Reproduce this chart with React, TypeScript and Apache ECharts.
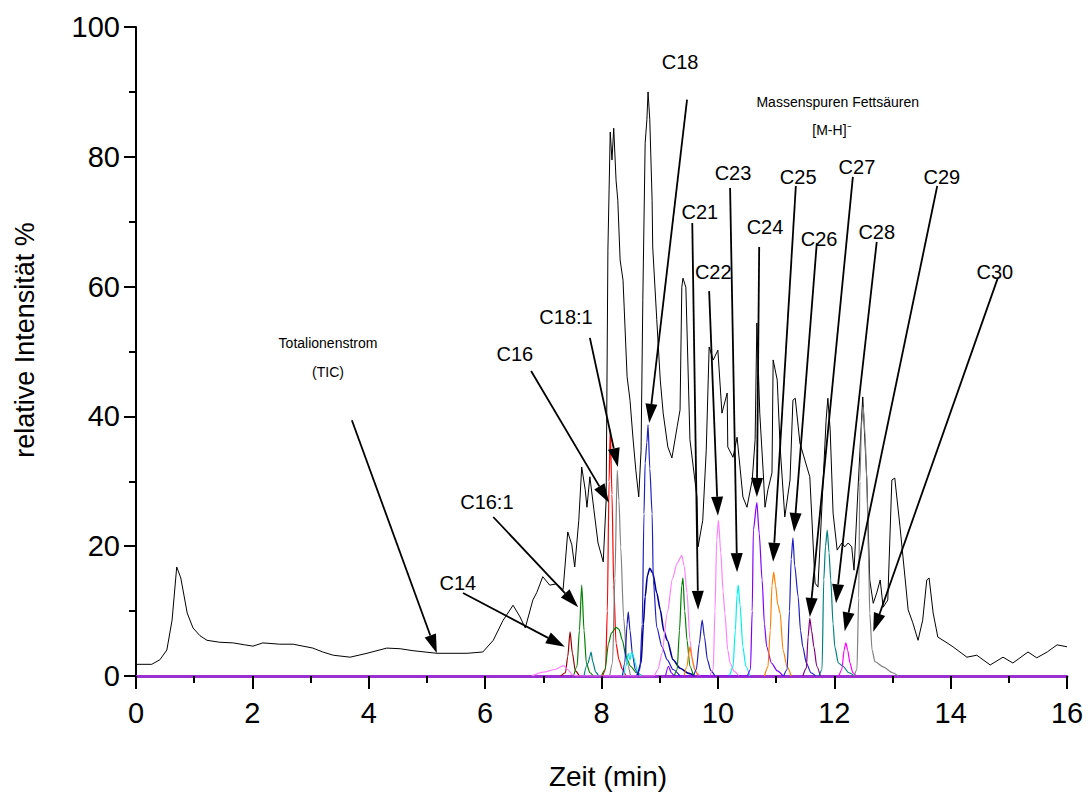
import React, { useEffect, useRef } from "react";
import * as echarts from "echarts";

type Pt = [number, number];

// Total ion current (TIC), time in min, relative intensity in %
const tic: Pt[] = [
  [0.0, 1.8], [0.27, 1.8], [0.41, 2.5], [0.53, 4.0], [0.62, 8.6], [0.7, 16.8], [0.77, 15.1],
  [0.88, 9.7], [0.98, 7.4], [1.1, 6.2], [1.22, 5.5], [1.44, 5.2], [1.67, 5.1], [1.87, 4.8],
  [2.01, 4.6], [2.18, 5.1], [2.47, 4.9], [2.7, 4.9], [2.87, 4.6], [3.04, 4.3], [3.21, 3.7],
  [3.39, 3.2], [3.68, 2.9], [3.97, 3.5], [4.31, 4.3], [4.54, 4.2], [4.76, 3.9], [5.17, 3.5],
  [5.69, 3.5], [5.96, 3.7], [6.14, 5.5], [6.31, 8.6], [6.48, 10.9], [6.6, 9.1], [6.69, 7.4],
  [6.82, 11.7], [6.89, 12.9], [6.99, 15.3], [7.11, 14.0], [7.23, 14.2], [7.34, 13.3],
  [7.42, 22.2], [7.49, 20.2], [7.54, 16.8], [7.61, 24.0], [7.66, 32.2], [7.72, 28.7],
  [7.75, 26.0], [7.8, 30.7], [7.87, 25.6], [7.94, 20.5], [8.03, 17.6], [8.08, 27.1],
  [8.11, 65.6], [8.15, 83.8], [8.18, 79.5], [8.21, 84.4], [8.25, 76.4], [8.28, 73.3],
  [8.32, 64.1], [8.37, 61.0], [8.44, 46.1], [8.49, 42.5], [8.54, 36.8], [8.59, 31.7],
  [8.64, 27.6], [8.68, 34.8], [8.71, 57.9], [8.75, 82.1], [8.78, 85.7], [8.8, 90.0],
  [8.83, 85.7], [8.87, 73.3], [8.88, 66.1], [8.95, 54.9], [9.01, 45.6], [9.06, 40.5],
  [9.14, 35.3], [9.21, 33.6], [9.3, 38.4], [9.35, 41.0], [9.38, 59.9], [9.4, 61.3],
  [9.45, 59.9], [9.52, 36.4], [9.64, 27.6], [9.66, 19.9], [9.74, 24.0], [9.8, 34.8],
  [9.85, 50.7], [9.92, 48.7], [10.0, 50.2], [10.07, 40.5], [10.16, 43.6], [10.17, 35.3],
  [10.26, 33.7], [10.33, 36.8], [10.43, 27.6], [10.5, 26.0], [10.59, 30.2], [10.64, 36.4],
  [10.67, 54.4], [10.72, 40.5], [10.78, 31.3], [10.81, 26.0], [10.86, 28.7], [10.93, 31.3],
  [10.95, 48.7], [11.02, 45.6], [11.07, 35.3], [11.15, 24.5], [11.24, 30.2], [11.29, 42.5],
  [11.33, 42.8], [11.41, 35.9], [11.53, 32.2], [11.58, 30.7], [11.67, 14.3], [11.72, 13.7],
  [11.81, 30.2], [11.86, 39.4], [11.89, 42.8], [11.93, 37.9], [11.98, 25.1], [12.05, 19.4],
  [12.13, 20.5], [12.18, 19.9], [12.24, 20.5], [12.3, 19.9], [12.34, 16.3], [12.41, 29.1],
  [12.48, 41.4], [12.49, 43.0], [12.56, 30.2], [12.61, 14.8], [12.67, 11.2], [12.73, 12.8],
  [12.79, 14.8], [12.84, 10.6], [12.92, 11.7], [12.99, 30.2], [13.04, 30.5], [13.13, 23.0],
  [13.22, 14.8], [13.27, 10.2], [13.35, 8.2], [13.44, 5.5], [13.52, 8.6], [13.59, 14.8],
  [13.63, 15.1], [13.7, 9.7], [13.78, 6.0], [13.94, 5.1], [14.04, 4.5], [14.28, 2.9],
  [14.45, 3.2], [14.68, 1.7], [14.9, 2.9], [15.07, 2.0], [15.33, 3.7], [15.48, 2.8],
  [15.66, 3.7], [15.83, 4.8], [16.0, 4.5],
];

// Extracted ion traces [M-H]- of the fatty acids
const traceC14: Pt[] = [[7.3, 0], [7.38, 0.5], [7.42, 3], [7.46, 6.8], [7.5, 3.5], [7.55, 0.8], [7.62, 0]];
const traceC16_1: Pt[] = [[7.52, 0], [7.58, 1.5], [7.62, 7], [7.66, 14], [7.7, 7], [7.74, 2], [7.8, 0.5], [7.86, 0]];
const traceTeal: Pt[] = [[7.7, 0], [7.74, 1.5], [7.77, 2.0], [7.8, 3.0], [7.82, 3.7], [7.85, 2.2], [7.9, 0.6], [7.95, 0]];
const traceC16: Pt[] = [[8.02, 0], [8.07, 1], [8.1, 10], [8.13, 30], [8.15, 37.9], [8.18, 28], [8.21, 14], [8.25, 5], [8.3, 2.5], [8.36, 1], [8.42, 0]];
const traceC18_1: Pt[] = [[8.14, 0], [8.19, 2], [8.23, 15], [8.27, 31.7], [8.3, 27], [8.33, 19.9], [8.38, 9], [8.44, 2], [8.5, 0]];
const traceGreen83: Pt[] = [[8.0, 0], [8.06, 1], [8.12, 5], [8.17, 6.6], [8.25, 7.5], [8.3, 7.2], [8.36, 5.5], [8.42, 3], [8.5, 1.5], [8.6, 0.5], [8.7, 0]];
const traceNavy845: Pt[] = [[8.36, 0], [8.4, 2], [8.44, 8], [8.46, 9.9], [8.49, 7], [8.53, 3.5], [8.58, 1], [8.64, 0]];
const traceCyan855: Pt[] = [[8.38, 0], [8.42, 1.5], [8.46, 3.5], [8.49, 2.5], [8.52, 3.7], [8.55, 3.0], [8.58, 2.0], [8.62, 0.5], [8.68, 0]];
const traceC18: Pt[] = [[8.6, 0], [8.66, 1], [8.7, 8], [8.73, 25], [8.75, 32.8], [8.78, 36], [8.8, 38.7], [8.83, 32], [8.87, 25], [8.89, 14.8], [8.95, 7.5], [9.04, 4.5], [9.13, 2.5], [9.23, 1], [9.35, 0]];
const traceNavy885: Pt[] = [[8.62, 0], [8.68, 2], [8.72, 8], [8.75, 12.2], [8.79, 15.5], [8.83, 16.6], [8.88, 15.9], [8.95, 12.8], [9.01, 10.2], [9.07, 7], [9.13, 5.5], [9.23, 2.5], [9.35, 1.2], [9.5, 0.4], [9.6, 0]];
const tracePink94: Pt[] = [[6.8, 0], [7.0, 0.6], [7.2, 1.0], [7.35, 1.6], [7.42, 1.0], [7.5, 0.2], [7.6, 0], [8.9, 0], [8.97, 1], [9.04, 3.5], [9.13, 9.7], [9.22, 15], [9.3, 17.4], [9.38, 18.6], [9.42, 17], [9.47, 12.8], [9.52, 5.5], [9.57, 2], [9.63, 0.5], [9.7, 0]];
const traceGreen94: Pt[] = [[9.25, 0], [9.3, 1], [9.34, 7], [9.38, 14], [9.4, 15.1], [9.43, 10], [9.47, 5.5], [9.52, 1.5], [9.58, 0]];
const traceOrange95: Pt[] = [[9.42, 0], [9.47, 1.5], [9.5, 3.5], [9.52, 4.5], [9.55, 3], [9.6, 1], [9.66, 0]];
const traceC21: Pt[] = [[9.58, 0], [9.63, 1], [9.68, 5], [9.73, 8.6], [9.77, 6], [9.82, 2.5], [9.88, 0.8], [9.95, 0]];
const traceC22: Pt[] = [[9.86, 0], [9.92, 1], [9.95, 10], [9.98, 21], [10.01, 24], [10.05, 19], [10.09, 13], [10.12, 9.7], [10.17, 4], [10.21, 2], [10.28, 0.7], [10.36, 0]];
const traceC23: Pt[] = [[10.2, 0], [10.26, 1.4], [10.3, 7], [10.33, 12.5], [10.35, 14], [10.38, 11], [10.43, 4.5], [10.48, 1.5], [10.55, 0]];
const traceC24: Pt[] = [[9.1, 0], [9.15, 1.5], [9.2, 0.5], [9.25, 0], [10.5, 0], [10.56, 1], [10.59, 10], [10.61, 22.5], [10.67, 26.7], [10.71, 22], [10.76, 14.8], [10.8, 8], [10.84, 4.5], [10.92, 2], [11.02, 0.8], [11.12, 0]];
const traceC25: Pt[] = [[10.8, 0], [10.86, 1.4], [10.9, 7], [10.93, 14], [10.96, 16], [10.99, 14], [11.03, 11], [11.07, 9.7], [11.12, 4], [11.19, 1.4], [11.26, 0]];
const traceC26: Pt[] = [[11.13, 0], [11.19, 1], [11.23, 10], [11.26, 18], [11.29, 21.3], [11.32, 17], [11.38, 12.2], [11.42, 7], [11.46, 4.5], [11.52, 2], [11.6, 0.5], [11.68, 0]];
const traceC27: Pt[] = [[11.46, 0], [11.52, 1.2], [11.55, 6], [11.58, 8.9], [11.61, 7], [11.65, 4.5], [11.7, 1.5], [11.76, 0]];
const traceC28: Pt[] = [[11.74, 0], [11.79, 1], [11.82, 14.8], [11.85, 20], [11.88, 22.5], [11.91, 19], [11.94, 14.8], [11.98, 8], [12.01, 4.5], [12.07, 2], [12.15, 1.5], [12.25, 0.5], [12.35, 0]];
const traceC29: Pt[] = [[12.08, 0], [12.13, 1], [12.17, 4], [12.2, 5.1], [12.23, 4], [12.27, 2], [12.32, 0.5], [12.38, 0]];
const traceC30: Pt[] = [[12.34, 0], [12.39, 1], [12.42, 12], [12.44, 30], [12.47, 39], [12.5, 41.4], [12.53, 37], [12.56, 30], [12.59, 18], [12.61, 9.7], [12.65, 4], [12.7, 2.2], [12.84, 1.4], [13.0, 0.5], [13.1, 0]];

const xTicks = { min: 0, max: 16, interval: 2 };
const yTicks = { min: 0, max: 100, interval: 20 };

// Peak annotations: label centre, arrow start and arrow tip (data coordinates)
type Note = { label: string; at: Pt; from: Pt; to: Pt };
const notes: Note[] = [
  { label: "C14", at: [5.53, 14.3], from: [5.62, 12.8], to: [7.37, 4.5] },
  { label: "C16:1", at: [6.03, 26.8], from: [6.14, 24.5], to: [7.6, 10.6] },
  { label: "C16", at: [6.51, 49.6], from: [6.79, 47.0], to: [8.13, 26.7] },
  { label: "C18:1", at: [7.39, 55.3], from: [7.8, 52.1], to: [8.28, 32.2] },
  { label: "C18", at: [9.35, 94.6], from: [9.47, 88.8], to: [8.82, 39.0] },
  { label: "C21", at: [9.69, 71.5], from: [9.56, 69.8], to: [9.66, 10.2] },
  { label: "C22", at: [9.92, 62.2], from: [9.85, 59.3], to: [10.0, 24.7] },
  { label: "C23", at: [10.26, 77.5], from: [10.21, 75.2], to: [10.33, 16.0] },
  { label: "C24", at: [10.81, 69.2], from: [10.71, 66.1], to: [10.67, 27.6] },
  { label: "C25", at: [11.38, 76.9], from: [11.34, 75.5], to: [10.95, 17.6] },
  { label: "C26", at: [11.74, 67.3], from: [11.7, 66.7], to: [11.31, 22.2] },
  { label: "C27", at: [12.39, 78.4], from: [12.32, 76.9], to: [11.58, 9.1] },
  { label: "C28", at: [12.73, 68.4], from: [12.73, 66.9], to: [12.03, 11.2] },
  { label: "C29", at: [13.85, 76.9], from: [13.77, 75.5], to: [12.18, 6.9] },
  { label: "C30", at: [14.76, 62.2], from: [14.81, 61.3], to: [12.67, 6.8] },
];
const ticArrow = { from: [3.71, 39.4] as Pt, to: [5.17, 3.5] as Pt };
const smallNotes: { text: string; at: Pt }[] = [
  { text: "Totalionenstrom", at: [3.3, 51.3] },
  { text: "(TIC)", at: [3.3, 46.8] },
  { text: "Massenspuren Fettsäuren", at: [12.06, 88.4] },
  { text: "[M-H]⁻", at: [11.96, 84.1] },
];

const FONT = "'Liberation Sans', Arial, Helvetica, sans-serif";

const traces: { name: string; data: Pt[]; color: string; width?: number }[] = [
  { name: "C14", data: traceC14, color: "#990000" },
  { name: "C16:1", data: traceC16_1, color: "#008000" },
  { name: "7,8 min", data: traceTeal, color: "#008080" },
  { name: "C16", data: traceC16, color: "#ff0000" },
  { name: "C18:1", data: traceC18_1, color: "#808080" },
  { name: "8,3 min", data: traceGreen83, color: "#008000" },
  { name: "8,5 min", data: traceNavy845, color: "#1c1cb0" },
  { name: "8,6 min", data: traceCyan855, color: "#00e8f0" },
  { name: "8,9 min", data: traceNavy885, color: "#000090", width: 1.6 },
  { name: "C18", data: traceC18, color: "#2020c0" },
  { name: "9,4 min", data: tracePink94, color: "#ff80ff" },
  { name: "9,4 min b", data: traceGreen94, color: "#008000" },
  { name: "9,5 min", data: traceOrange95, color: "#ff8000" },
  { name: "C21", data: traceC21, color: "#2020b0" },
  { name: "C22", data: traceC22, color: "#ff80ff" },
  { name: "C23", data: traceC23, color: "#00f0f0" },
  { name: "C24", data: traceC24, color: "#8000ff" },
  { name: "C25", data: traceC25, color: "#ff8000" },
  { name: "C26", data: traceC26, color: "#2020c0" },
  { name: "C27", data: traceC27, color: "#800080" },
  { name: "C28", data: traceC28, color: "#008080" },
  { name: "C29", data: traceC29, color: "#ff00ff" },
  { name: "C30", data: traceC30, color: "#808080" },
];

export default function App() {
  const ref = useRef<HTMLDivElement>(null);

  useEffect(() => {
    if (!ref.current) return;
    const chart = echarts.init(ref.current, undefined, { renderer: "svg" });

    const series: any[] = [
      {
        name: "TIC",
        type: "line",
        data: tic,
        showSymbol: false,
        lineStyle: { color: "#000", width: 1 },
        z: 2,
      },
      ...traces.map((t) => ({
        name: t.name,
        type: "line",
        data: t.data,
        showSymbol: false,
        smooth: 0.25,
        smoothMonotone: "x",
        lineStyle: { color: t.color, width: t.width ?? 1.2 },
        z: 3,
      })),
    ];

    chart.setOption({
      animation: false,
      backgroundColor: "#ffffff",
      grid: { left: 136, right: 25, top: 27, bottom: 119, containLabel: false },
      xAxis: {
        type: "value",
        ...xTicks,
        axisLine: { show: true, onZero: false, lineStyle: { color: "#9a30d0", width: 3 } },
        axisTick: { show: true, length: 13, lineStyle: { color: "#000", width: 2 } },
        minorTick: { show: true, splitNumber: 2, length: 7, lineStyle: { color: "#000", width: 2 } },
        axisLabel: { color: "#000", fontSize: 29, fontFamily: FONT, margin: 22 },
        splitLine: { show: false },
      },
      yAxis: {
        type: "value",
        ...yTicks,
        axisLine: { show: true, lineStyle: { color: "#000", width: 2 } },
        axisTick: { show: true, length: 12, lineStyle: { color: "#000", width: 2 } },
        minorTick: { show: true, splitNumber: 2, length: 7, lineStyle: { color: "#000", width: 2 } },
        axisLabel: { color: "#000", fontSize: 29, fontFamily: FONT, margin: 16 },
        splitLine: { show: false },
      },
      series,
    });

    const toPx = (p: Pt): number[] => chart.convertToPixel({ gridIndex: 0 }, p) as number[];
    const ARROW_LEN = 19;
    const ARROW_HALF = 6;
    const arrow = (from: Pt, to: Pt) => {
      const [x1, y1] = toPx(from);
      const [x2, y2] = toPx(to);
      const dx = x2 - x1;
      const dy = y2 - y1;
      const len = Math.hypot(dx, dy);
      const ux = dx / len;
      const uy = dy / len;
      const bx = x2 - ux * ARROW_LEN;
      const by = y2 - uy * ARROW_LEN;
      return [
        {
          type: "line",
          z: 50,
          shape: { x1, y1, x2: bx, y2: by },
          style: { stroke: "#000", lineWidth: 1.8 },
        },
        {
          type: "polygon",
          z: 50,
          shape: {
            points: [
              [x2, y2],
              [bx - uy * ARROW_HALF, by + ux * ARROW_HALF],
              [bx + uy * ARROW_HALF, by - ux * ARROW_HALF],
            ],
          },
          style: { fill: "#000" },
        },
      ];
    };

    const graphic: any[] = [];
    notes.forEach((n) => {
      const [tx, ty] = toPx(n.at);
      graphic.push({
        type: "text",
        z: 51,
        x: tx,
        y: ty,
        style: {
          text: n.label,
          fill: "#000",
          font: `20px ${FONT}`,
          align: "center",
          verticalAlign: "middle",
        },
      });
      graphic.push(...arrow(n.from, n.to));
    });
    graphic.push(...arrow(ticArrow.from, ticArrow.to));
    smallNotes.forEach((s) => {
      const [tx, ty] = toPx(s.at);
      graphic.push({
        type: "text",
        z: 51,
        x: tx,
        y: ty,
        style: {
          text: s.text,
          fill: "#000",
          font: `14px ${FONT}`,
          align: "center",
          verticalAlign: "middle",
        },
      });
    });
    graphic.push({
      type: "text",
      z: 51,
      x: 608,
      y: 776,
      style: {
        text: "Zeit (min)",
        fill: "#000",
        font: `28px ${FONT}`,
        align: "center",
        verticalAlign: "middle",
      },
    });
    graphic.push({
      type: "text",
      z: 51,
      x: 25,
      y: 340,
      rotation: Math.PI / 2,
      style: {
        text: "relative Intensität %",
        fill: "#000",
        font: `27px ${FONT}`,
        align: "center",
        verticalAlign: "middle",
      },
    });

    chart.setOption({ graphic });

    return () => chart.dispose();
  }, []);

  return (
    <div
      ref={ref}
      style={{ position: "absolute", left: 0, top: 0, width: 1092, height: 795, background: "#fff" }}
    />
  );
}
